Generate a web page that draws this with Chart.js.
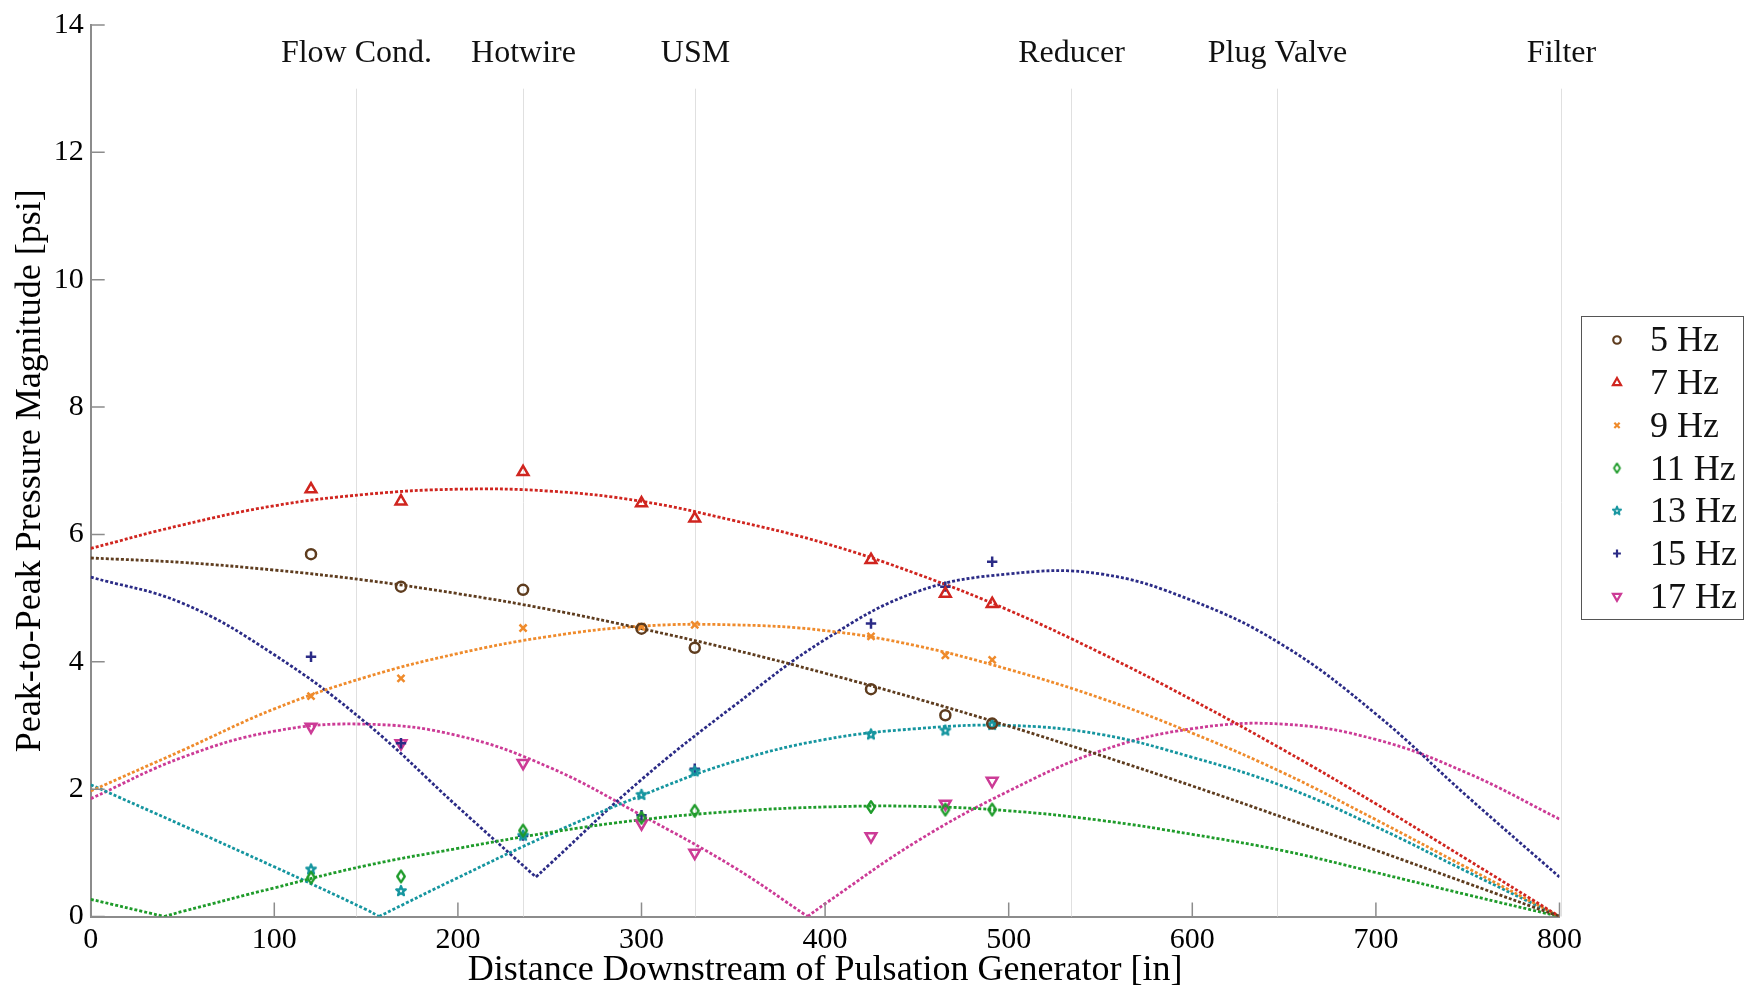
<!DOCTYPE html>
<html>
<head>
<meta charset="utf-8">
<title>Peak-to-Peak Pressure Magnitude</title>
<script src="https://cdn.jsdelivr.net/npm/chart.js@4.4.0/dist/chart.umd.min.js"></script>
<style>
  html, body { margin: 0; padding: 0; background: #fff; }
  #wrap { width: 1753px; height: 994px; }
</style>
</head>
<body>
<div id="wrap"><canvas id="pulseChart" width="1753" height="994"></canvas></div>
<script>
// probe locations along the pipe [in]
const probeX = [120, 169, 235.5, 300, 329, 425, 465.5, 491];

// measured peak-to-peak magnitudes [psi], one array per frequency
const meas5  = [5.69, 5.18, 5.13, 4.52, 4.22, 3.57, 3.16, 3.03];
const meas7  = [6.71, 6.52, 6.98, 6.49, 6.25, 5.60, 5.07, 4.91];
const meas9  = [3.46, 3.74, 4.53, 4.55, 4.58, 4.40, 4.10, 4.03];
const meas11 = [0.61, 0.63, 1.35, 1.55, 1.66, 1.72, 1.68, 1.68];
const meas13 = [0.74, 0.40, 1.27, 1.91, 2.28, 2.86, 2.92, 3.01];
const meas15 = [4.08, 2.72, 1.27, 1.59, 2.32, 4.60, 5.18, 5.57];
const meas17 = [2.98, 2.72, 2.41, 1.46, 1.00, 1.26, 1.77, 2.13];

const fitX  = [0, 50, 100, 150, 200, 250, 300, 350, 400, 450, 500, 550, 600, 650, 700, 750, 800];
const fit5  = [5.63, 5.56, 5.44, 5.28, 5.07, 4.82, 4.52, 4.19, 3.82, 3.42, 2.99, 2.53, 2.05, 1.55, 1.04, 0.52, 0];
const fit7  = [5.78, 6.15, 6.45, 6.63, 6.71, 6.68, 6.52, 6.22, 5.86, 5.38, 4.81, 4.14, 3.40, 2.61, 1.77, 0.89, 0];
const fit9  = [1.97, 2.61, 3.26, 3.76, 4.13, 4.40, 4.56, 4.58, 4.49, 4.25, 3.88, 3.43, 2.88, 2.25, 1.52, 0.76, 0];
const fit11 = [0.27, 0.08, 0.45, 0.80, 1.07, 1.32, 1.52, 1.65, 1.72, 1.73, 1.66, 1.51, 1.29, 1.03, 0.69, 0.34, 0];
const fit13 = [2.07, 1.43, 0.78, 0.11, 0.61, 1.29, 1.90, 2.43, 2.78, 2.95, 3.00, 2.86, 2.50, 2.04, 1.41, 0.70, 0];
const fit15 = [5.33, 4.92, 4.11, 3.04, 1.72, 0.82, 2.15, 3.30, 4.35, 5.10, 5.38, 5.38, 4.96, 4.25, 3.18, 1.88, 0.62];
const fit17 = [1.85, 2.50, 2.91, 3.02, 2.84, 2.34, 1.59, 0.78, 0.20, 1.18, 1.97, 2.60, 2.95, 3.02, 2.78, 2.25, 1.53];

// node (sharp fold) of each fit curve, null when the curve has none
const cuspX = [null, null, null, 40, 157, 242.5, 390.5];
const cuspY = [null, null, null, 0, 0, 0.62, 0];

const freqLabels = ['5 Hz', '7 Hz', '9 Hz', '11 Hz', '13 Hz', '15 Hz', '17 Hz'];

// pipe components marked along the top
const componentNames = ['Flow Cond.', 'Hotwire', 'USM', 'Reducer', 'Plug Valve', 'Filter'];
const componentX = [144.5, 235.5, 329, 534, 646, 801];

const xTicks = [0, 100, 200, 300, 400, 500, 600, 700, 800];
const yTicks = [0, 2, 4, 6, 8, 10, 12, 14];

const measured = [meas5, meas7, meas9, meas11, meas13, meas15, meas17];
const fits = [fit5, fit7, fit9, fit11, fit13, fit15, fit17];

const seriesColors = ['#5e3c1e', '#d0251f', '#ef8b2c', '#1e9b2a', '#15959f', '#2b2b86', '#cc3b96'];

// small canvases for the markers Chart.js has no shape for
function makeMarker(kind, color, s) {
  const c = document.createElement('canvas');
  const size = Math.ceil(16 * s);
  c.width = size;
  c.height = size;
  const g = c.getContext('2d');
  const m = size / 2;
  g.strokeStyle = color;
  g.lineWidth = 2.3 * s;
  g.lineJoin = 'round';
  g.beginPath();
  if (kind === 'diamond') {
    g.moveTo(m, m - 5.8 * s);
    g.lineTo(m + 3.8 * s, m);
    g.lineTo(m, m + 5.8 * s);
    g.lineTo(m - 3.8 * s, m);
  } else {
    for (let i = 0; i < 10; i++) {
      const r = (i % 2 ? 2.1 : 5.0) * s;
      const a = -Math.PI / 2 + i * Math.PI / 5;
      const px = m + Math.cos(a) * r, py = m + Math.sin(a) * r;
      if (i === 0) g.moveTo(px, py); else g.lineTo(px, py);
    }
  }
  g.closePath();
  g.stroke();
  return c;
}

const markerStyles = [
  { pointStyle: 'circle', radius: 5, rotation: 0 },
  { pointStyle: 'triangle', radius: 6.2, rotation: 0 },
  { pointStyle: 'crossRot', radius: 5, rotation: 0 },
  { pointStyle: makeMarker('diamond', seriesColors[3], 1), legendStyle: makeMarker('diamond', seriesColors[3], 0.8), radius: 5, rotation: 0 },
  { pointStyle: makeMarker('star', seriesColors[4], 1), legendStyle: makeMarker('star', seriesColors[4], 0.85), radius: 5, rotation: 0 },
  { pointStyle: 'cross', radius: 5.2, rotation: 0 },
  { pointStyle: 'triangle', radius: 6.2, rotation: 180 },
];

function curvePoints(vals, nx, ny) {
  const pts = [];
  fitX.forEach((xv, i) => {
    if (nx !== null && xv > nx && i > 0 && fitX[i - 1] < nx) {
      // break the line at the node so both sides meet in a sharp fold
      pts.push({ x: nx, y: ny }, { x: nx, y: null }, { x: nx, y: ny });
    }
    pts.push({ x: xv, y: vals[i] });
  });
  return pts;
}

const datasets = [];
fits.forEach((vals, i) => {
  datasets.push({
    label: freqLabels[i] + ' fit',
    data: curvePoints(vals, cuspX[i], cuspY[i]),
    showLine: true,
    borderColor: seriesColors[i],
    borderWidth: 2.8,
    borderDash: [3, 2],
    tension: 0.4,
    pointRadius: 0,
    spanGaps: false,
    order: 2,
  });
});
measured.forEach((vals, i) => {
  const st = markerStyles[i];
  datasets.push({
    label: freqLabels[i],
    data: vals.map((v, j) => ({ x: probeX[j], y: v })),
    showLine: false,
    pointStyle: st.pointStyle,
    pointRadius: st.radius,
    pointRotation: st.rotation,
    pointBorderWidth: 2.5,
    borderColor: seriesColors[i],
    pointBorderColor: seriesColors[i],
    pointBackgroundColor: 'rgba(0,0,0,0)',
    order: 1,
  });
});

const serif = '"Liberation Serif", "Times New Roman", serif';
Chart.defaults.font.family = serif;
Chart.defaults.color = '#000';

const axisGray = '#8c8c8c';

const pipePlugin = {
  id: 'pipeDecor',
  beforeDatasetsDraw(chart) {
    const { ctx, scales: { x, y } } = chart;
    ctx.save();
    ctx.strokeStyle = '#e0e0e0';
    ctx.lineWidth = 1;
    ctx.fillStyle = '#111';
    ctx.font = '32px ' + serif;
    ctx.textAlign = 'center';
    ctx.textBaseline = 'middle';
    componentX.forEach((cx, i) => {
      const px = Math.round(x.getPixelForValue(cx)) + 0.5;
      ctx.beginPath();
      ctx.moveTo(px, y.getPixelForValue(0));
      ctx.lineTo(px, y.getPixelForValue(13));
      ctx.stroke();
      ctx.fillText(componentNames[i], px, y.getPixelForValue(13.55));
    });
    ctx.restore();
  },
  afterDraw(chart) {
    const { ctx, chartArea, scales: { x, y } } = chart;
    ctx.save();
    // inward tick marks
    ctx.strokeStyle = axisGray;
    ctx.lineWidth = 1.5;
    ctx.beginPath();
    yTicks.forEach(v => {
      const py = y.getPixelForValue(v);
      ctx.moveTo(chartArea.left, py);
      ctx.lineTo(chartArea.left + 14, py);
    });
    xTicks.forEach(v => {
      const px = x.getPixelForValue(v);
      ctx.moveTo(px, chartArea.bottom);
      ctx.lineTo(px, chartArea.bottom - 14);
    });
    ctx.stroke();

    // legend box on the right
    const box = { left: 1581.5, top: 316.5, width: 162, height: 303 };
    ctx.strokeStyle = '#555';
    ctx.lineWidth = 1;
    ctx.strokeRect(box.left, box.top, box.width, box.height);
    ctx.font = '36px ' + serif;
    ctx.textAlign = 'left';
    ctx.textBaseline = 'middle';
    const drawPoint = Chart.helpers && Chart.helpers.drawPoint;
    freqLabels.forEach((lab, i) => {
      const rowY = 340 + i * 42.7;
      const st = markerStyles[i];
      ctx.strokeStyle = seriesColors[i];
      ctx.fillStyle = 'rgba(0,0,0,0)';
      ctx.lineWidth = 2.2;
      if (drawPoint) {
        drawPoint(ctx, {
          pointStyle: st.legendStyle || st.pointStyle,
          radius: st.radius * 0.75,
          rotation: st.rotation,
          borderWidth: 2.2,
        }, 1617, rowY);
      }
      ctx.fillStyle = '#111';
      ctx.fillText(lab, 1650, rowY + 2);
    });
    ctx.restore();
  },
};

new Chart(document.getElementById('pulseChart'), {
  type: 'scatter',
  data: { datasets },
  options: {
    responsive: false,
    animation: false,
    events: [],
    layout: { padding: { top: 20.5, right: 193.5, bottom: 0, left: 0 } },
    plugins: {
      legend: { display: false },
      tooltip: { enabled: false },
    },
    scales: {
      x: {
        type: 'linear',
        min: 0,
        max: 800,
        afterFit(scale) { scale.height = 77.5; },
        afterBuildTicks(scale) { scale.ticks = xTicks.map(v => ({ value: v })); },
        grid: { display: false, drawTicks: false },
        border: { display: true, color: axisGray, width: 2 },
        ticks: { font: { size: 30 }, padding: 6, maxRotation: 0 },
        title: {
          display: true,
          text: 'Distance Downstream of Pulsation Generator [in]',
          font: { size: 36 },
          padding: { top: 0, bottom: 2 },
        },
      },
      y: {
        type: 'linear',
        min: 0,
        max: 14,
        afterFit(scale) { scale.width = 90.7; },
        afterBuildTicks(scale) { scale.ticks = yTicks.map(v => ({ value: v })); },
        grid: { display: false, drawTicks: false },
        border: { display: true, color: axisGray, width: 2 },
        ticks: { font: { size: 30 }, padding: 7 },
        title: {
          display: true,
          text: 'Peak-to-Peak Pressure Magnitude [psi]',
          font: { size: 36 },
          padding: { top: 9, bottom: 0 },
        },
      },
    },
  },
  plugins: [pipePlugin],
});
</script>
</body>
</html>
